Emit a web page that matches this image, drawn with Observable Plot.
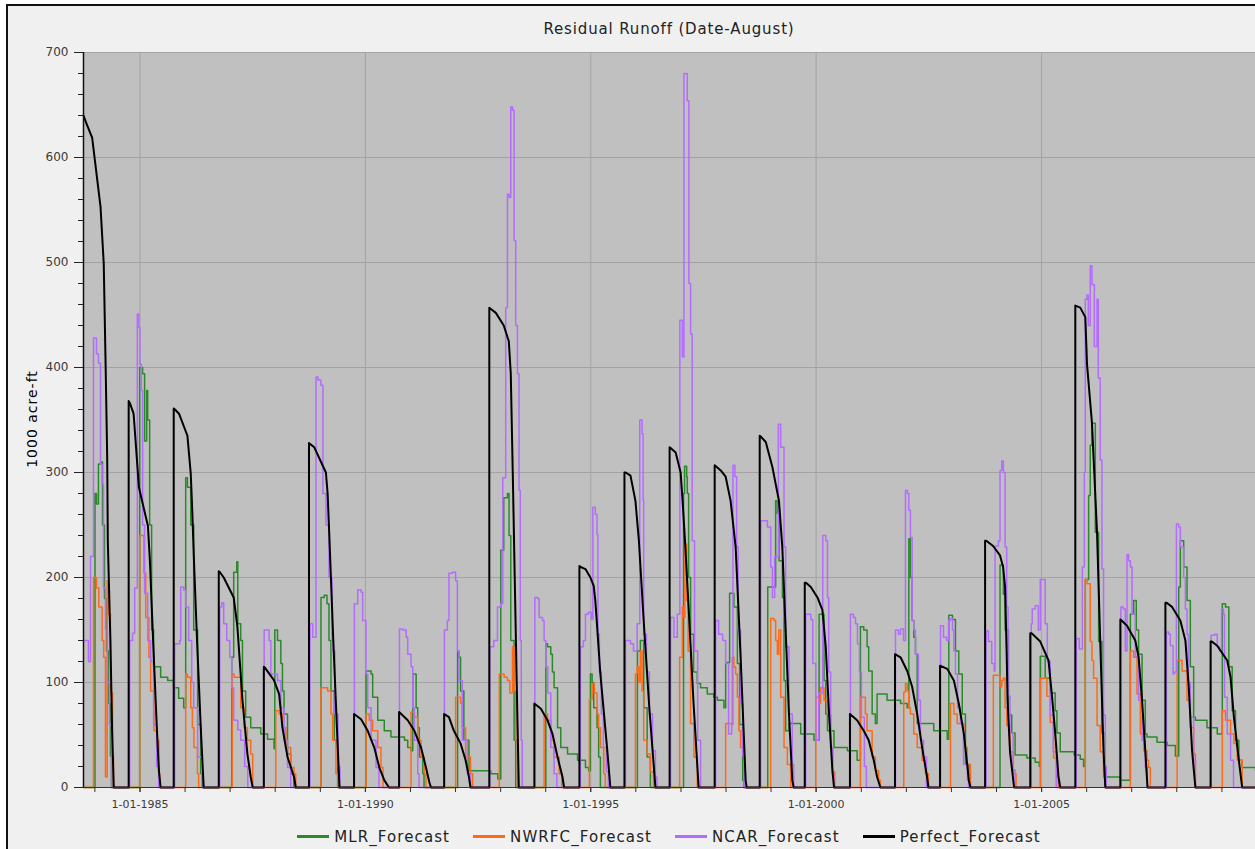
<!DOCTYPE html>
<html>
<head>
<meta charset="utf-8">
<script src="https://cdn.jsdelivr.net/npm/d3@7"></script>
<script src="https://cdn.jsdelivr.net/npm/@observablehq/plot@0.6"></script>
<style>
  html, body { margin: 0; padding: 0; width: 1255px; height: 849px; overflow: hidden; background: #fff; }
  #panel { position: absolute; left: 6px; top: 4px; width: 1280px; height: 880px; border: 2px solid #111; background: #f0f0f0; }
  #title { position: absolute; left: 83px; width: 1172px; top: 20px; text-align: center;
           font: 15px "DejaVu Sans", sans-serif; letter-spacing: 0.85px; color: #222; }
  #chart { position: absolute; left: 0; top: 42px; }
  #ylabel { position: absolute; left: 32px; top: 419px; transform: translate(-50%, -50%) rotate(-90deg);
            white-space: nowrap; font: 14px "DejaVu Sans", sans-serif; letter-spacing: 1px; color: #000; }
  #legend { position: absolute; left: 83px; width: 1172px; top: 828px; display: flex; justify-content: center; gap: 23px;
            font: 15px "DejaVu Sans", sans-serif; letter-spacing: 1.1px; color: #222; line-height: 18px; }
  #legend .sw { display: inline-block; width: 32px; height: 3px; margin-right: 5px; vertical-align: middle; position: relative; top: -1px; }
</style>
</head>
<body>
<div id="panel"></div>
<div id="title"></div>
<div id="ylabel"></div>
<div id="chart"></div>
<div id="legend"></div>
<script>
// Rows are [water year, day since Oct 1 of that water year, 1000 acre-ft]
const mlrForecast = [
  [1984,0,0],[1984,93,280],[1984,105,270],[1984,121,308],[1984,146,310],[1984,154,250],[1984,170,180],[1984,186,130],[1984,202,80],[1984,218,30],[1984,227,0],
  [1985,89,400],[1985,113,394],[1985,129,330],[1985,146,378],[1985,154,350],[1985,170,250],[1985,186,150],[1985,202,115],[1985,259,105],[1985,316,102],[1985,364,95],
  [1986,40,85],[1986,81,76],[1986,97,295],[1986,111,286],[1986,138,250],[1986,162,150],[1986,194,60],[1986,218,13],[1986,232,0],
  [1987,105,124],[1987,121,205],[1987,146,215],[1987,154,156],[1987,178,140],[1987,192,92],[1987,218,67],[1987,259,57],[1987,340,51],
  [1988,30,46],[1988,83,37],[1988,89,150],[1988,111,140],[1988,138,118],[1988,151,92],[1988,164,70],[1988,192,32],[1988,218,13],[1988,243,0],
  [1989,97,181],[1989,124,183],[1989,146,175],[1989,162,140],[1989,178,92],[1989,205,45],[1989,232,0],
  [1990,97,111],[1990,138,108],[1990,151,86],[1990,192,64],[1990,245,54],[1990,299,48],
  [1991,44,45],[1991,70,38],[1991,97,35],[1991,111,108],[1991,138,76],[1991,151,57],[1991,164,29],[1991,192,13],[1991,202,0],
  [1992,109,130],[1992,120,124],[1992,133,92],[1992,160,45],[1992,201,16],
  [1993,12,13],[1993,69,8],[1993,93,226],[1993,117,276],[1993,147,280],[1993,160,240],[1993,174,140],[1993,201,45],[1993,214,0],
  [1994,93,137],[1994,107,134],[1994,133,127],[1994,146,110],[1994,160,95],[1994,188,57],[1994,214,38],[1994,269,32],[1994,350,26],
  [1995,49,19],[1995,75,16],[1995,89,108],[1995,103,100],[1995,116,76],[1995,143,57],[1995,156,29],[1995,170,0],
  [1996,105,130],[1996,129,140],[1996,156,76],[1996,184,29],[1996,210,0],
  [1997,113,280],[1997,121,306],[1997,138,296],[1997,143,280],[1997,154,200],[1997,170,146],[1997,194,110],[1997,224,99],[1997,251,95],[1997,305,89],[1997,358,86],
  [1998,22,83],[1998,75,76],[1998,89,119],[1998,121,185],[1998,156,172],[1998,184,118],[1998,202,60],[1998,227,7],[1998,235,0],
  [1999,65,191],[1999,129,273],[1999,143,261],[1999,156,216],[1999,184,181],[1999,197,102],[1999,210,54],[1999,237,61],[1999,332,51],
  [2000,75,45],[2000,116,165],[2000,156,102],[2000,170,70],[2000,184,54],[2000,237,38],[2000,345,35],
  [2001,58,26],[2001,85,153],[2001,112,150],[2001,139,134],[2001,152,111],[2001,180,70],[2001,206,61],[2001,220,89],[2001,301,83],
  [2002,45,80],[2002,99,76],[2002,112,237],[2002,125,200],[2002,139,159],[2002,152,143],[2002,166,127],[2002,180,61],[2002,314,54],
  [2003,58,46],[2003,71,164],[2003,101,160],[2003,125,130],[2003,152,108],[2003,180,70],[2003,206,22],[2003,233,0],
  [2004,121,212],[2004,148,184],[2004,162,150],[2004,189,69],[2004,216,52],[2004,243,31],[2004,338,28],
  [2005,40,24],[2005,73,20],[2005,81,125],[2005,121,104],[2005,162,90],[2005,202,73],[2005,216,52],[2005,243,34],[2005,356,31],
  [2006,40,27],[2006,67,20],[2006,81,198],[2006,108,278],[2006,121,326],[2006,135,347],[2006,162,243],[2006,189,139],[2006,216,52],[2006,243,10],
  [2007,0,7],[2007,81,165],[2007,108,178],[2007,129,150],[2007,148,127],[2007,176,83],[2007,202,51],[2007,216,48],[2007,297,43],
  [2008,14,40],[2008,81,30],[2008,108,191],[2008,121,235],[2008,148,210],[2008,175,178],[2008,202,115],[2008,229,67],[2008,243,64],[2008,337,57],
  [2009,54,51],[2009,95,175],[2009,121,172],[2009,148,115],[2009,175,73],[2009,202,45],[2009,229,26],[2009,256,19],[2009,364,16]
];

const nwrfcForecast = [
  [1984,0,0],[1984,81,200],[1984,105,190],[1984,124,172],[1984,151,140],[1984,164,124],[1984,178,10],[1984,192,197],[1984,202,165],[1984,218,90],[1984,235,30],[1984,243,0],
  [1985,89,240],[1985,124,204],[1985,138,162],[1985,164,124],[1985,178,92],[1985,205,54],[1985,232,45],[1985,245,13],[1985,251,0],
  [1986,97,108],[1986,111,105],[1986,138,76],[1986,151,57],[1986,164,38],[1986,192,13],[1986,202,0],
  [1987,109,108],[1987,124,105],[1987,178,76],[1987,205,57],[1987,232,45],[1987,259,32],[1987,275,0],
  [1988,97,73],[1988,124,70],[1988,151,57],[1988,178,38],[1988,218,19],[1988,245,13],[1988,259,0],
  [1989,97,95],[1989,151,92],[1989,178,70],[1989,192,45],[1989,218,13],[1989,235,0],
  [1990,97,70],[1990,124,64],[1990,151,54],[1990,192,38],[1990,218,19],[1990,235,0],
  [1991,97,72],[1991,124,67],[1991,151,45],[1991,178,29],[1991,205,13],[1991,218,0],
  [1992,93,86],[1992,133,80],[1992,147,57],[1992,174,29],[1992,214,13],[1992,231,0],
  [1993,81,108],[1993,120,105],[1993,147,102],[1993,166,90],[1993,188,134],[1993,201,92],[1993,214,45],[1993,228,0],
  [1994,79,70],[1994,107,64],[1994,133,45],[1994,160,29],[1994,201,13],[1994,222,0],
  [1995,81,84],[1995,103,99],[1995,121,90],[1995,143,70],[1995,156,57],[1995,170,38],[1995,197,13],[1995,210,0],
  [1996,89,108],[1996,103,115],[1996,117,100],[1996,129,130],[1996,143,92],[1996,156,45],[1996,184,32],[1996,210,15],[1996,235,0],
  [1997,81,124],[1997,103,172],[1997,116,162],[1997,124,232],[1997,138,178],[1997,150,130],[1997,170,61],[1997,197,29],[1997,224,0],
  [1998,89,61],[1998,143,124],[1998,156,115],[1998,170,108],[1998,184,86],[1998,197,54],[1998,210,38],[1998,237,0],
  [1999,89,161],[1999,116,159],[1999,129,140],[1999,143,127],[1999,154,150],[1999,170,86],[1999,197,38],[1999,224,22],[1999,251,0],
  [2000,89,86],[2000,113,80],[2000,129,95],[2000,156,83],[2000,184,70],[2000,210,38],[2000,227,15],[2000,243,0],
  [2001,85,86],[2001,125,70],[2001,139,54],[2001,180,29],[2001,206,16],[2001,233,7],[2001,247,0],
  [2002,71,91],[2002,85,99],[2002,99,92],[2002,112,76],[2002,125,70],[2002,152,51],[2002,180,38],[2002,220,26],[2002,247,13],[2002,271,0],
  [2003,85,80],[2003,112,70],[2003,139,61],[2003,193,38],[2003,220,22],[2003,247,0],
  [2004,67,107],[2004,121,96],[2004,135,102],[2004,148,104],[2004,162,76],[2004,176,59],[2004,202,34],[2004,229,13],[2004,251,0],
  [2005,81,104],[2005,135,87],[2005,162,62],[2005,189,28],[2005,216,10],[2005,227,0],
  [2006,81,198],[2006,95,194],[2006,121,139],[2006,135,121],[2006,148,104],[2006,176,59],[2006,202,34],[2006,229,10],[2006,243,0],
  [2007,81,130],[2007,108,124],[2007,135,89],[2007,162,51],[2007,189,35],[2007,216,26],[2007,229,19],[2007,243,0],
  [2008,95,121],[2008,135,111],[2008,175,83],[2008,202,57],[2008,229,32],[2008,243,0],
  [2009,95,73],[2009,121,64],[2009,162,51],[2009,189,42],[2009,216,26],[2009,256,0],[2009,364,0]
];

const ncarForecast = [
  [1984,0,140],[1984,40,120],[1984,57,220],[1984,81,428],[1984,105,413],[1984,121,404],[1984,138,308],[1984,151,289],[1984,162,190],[1984,178,150],[1984,194,100],[1984,210,60],[1984,227,0],
  [1985,8,140],[1985,32,147],[1985,49,190],[1985,70,451],[1985,83,438],[1985,91,403],[1985,103,378],[1985,113,250],[1985,129,185],[1985,154,140],[1985,178,120],[1985,202,60],[1985,227,20],[1985,243,0],
  [1986,8,137],[1986,49,140],[1986,57,191],[1986,81,188],[1986,97,172],[1986,121,140],[1986,146,100],[1986,162,76],[1986,194,29],[1986,227,0],
  [1987,8,172],[1987,24,176],[1987,40,156],[1987,65,140],[1987,89,124],[1987,105,95],[1987,121,64],[1987,154,55],[1987,178,45],[1987,210,20],[1987,235,0],
  [1988,3,150],[1988,43,140],[1988,57,108],[1988,111,102],[1988,138,76],[1988,164,45],[1988,192,19],[1988,218,0],
  [1989,8,156],[1989,30,143],[1989,57,391],[1989,73,388],[1989,97,383],[1989,113,280],[1989,138,250],[1989,162,200],[1989,186,130],[1989,210,70],[1989,235,20],[1989,251,0],
  [1990,3,175],[1990,30,188],[1990,57,186],[1990,70,159],[1990,97,108],[1990,111,76],[1990,138,45],[1990,178,19],[1990,202,0],
  [1991,3,151],[1991,30,150],[1991,57,143],[1991,70,127],[1991,97,115],[1991,111,76],[1991,124,45],[1991,151,13],[1991,162,0],
  [1992,2,150],[1992,26,159],[1992,39,204],[1992,66,205],[1992,93,197],[1992,107,130],[1992,120,102],[1992,147,45],[1992,188,13],[1992,214,0],
  [1993,4,134],[1993,36,140],[1993,66,172],[1993,93,175],[1993,109,295],[1993,133,457],[1993,147,565],[1993,160,562],[1993,174,648],[1993,188,645],[1993,201,521],[1993,214,440],[1993,228,394],[1993,241,283],[1993,251,140],[1993,259,45],[1993,267,0],
  [1994,4,181],[1994,26,180],[1994,39,162],[1994,66,159],[1994,79,140],[1994,93,115],[1994,109,90],[1994,133,38],[1994,160,13],[1994,182,0],
  [1995,8,134],[1995,32,140],[1995,49,165],[1995,73,167],[1995,97,160],[1995,109,267],[1995,129,260],[1995,143,241],[1995,150,146],[1995,162,110],[1995,178,70],[1995,194,38],[1995,218,15],[1995,235,0],
  [1996,8,140],[1996,49,137],[1996,73,130],[1996,103,156],[1996,124,350],[1996,143,337],[1996,151,273],[1996,156,146],[1996,178,110],[1996,202,70],[1996,227,35],[1996,251,10],[1996,263,0],
  [1997,8,162],[1997,35,143],[1997,62,165],[1997,83,445],[1997,103,410],[1997,116,680],[1997,143,654],[1997,156,480],[1997,170,432],[1997,183,235],[1997,202,130],[1997,227,45],[1997,251,0],
  [1998,8,159],[1998,32,146],[1998,65,140],[1998,89,118],[1998,113,51],[1998,138,60],[1998,148,307],[1998,164,296],[1998,178,229],[1998,190,150],[1998,210,80],[1998,227,30],[1998,243,0],
  [1999,8,254],[1999,62,248],[1999,89,210],[1999,103,181],[1999,121,220],[1999,151,346],[1999,170,324],[1999,197,229],[1999,210,134],[1999,237,70],[1999,264,22],[1999,275,0],
  [2000,8,165],[2000,49,160],[2000,65,118],[2000,89,45],[2000,113,90],[2000,146,240],[2000,170,235],[2000,184,181],[2000,194,110],[2000,210,38],[2000,224,13],[2000,235,0],
  [2001,4,165],[2001,28,162],[2001,45,156],[2001,61,137],[2001,77,110],[2001,93,67],[2001,117,20],[2001,133,0],
  [2002,4,150],[2002,28,146],[2002,45,151],[2002,69,140],[2002,85,283],[2002,101,280],[2002,112,264],[2002,125,238],[2002,139,159],[2002,152,150],[2002,166,127],[2002,190,83],[2002,206,45],[2002,231,29],[2002,255,0],
  [2003,4,154],[2003,28,143],[2003,53,140],[2003,69,159],[2003,85,161],[2003,101,150],[2003,112,130],[2003,125,108],[2003,142,76],[2003,166,61],[2003,190,22],[2003,222,7],[2003,231,0],
  [2004,8,149],[2004,27,139],[2004,54,118],[2004,73,111],[2004,81,230],[2004,108,235],[2004,121,302],[2004,135,311],[2004,148,300],[2004,162,229],[2004,175,172],[2004,186,87],[2004,202,52],[2004,227,17],[2004,243,0],
  [2005,8,156],[2005,16,170],[2005,40,173],[2005,65,150],[2005,81,198],[2005,121,156],[2005,138,120],[2005,162,69],[2005,186,34],[2005,210,0],
  [2006,8,142],[2006,32,132],[2006,57,210],[2006,73,300],[2006,81,465],[2006,95,469],[2006,105,440],[2006,121,497],[2006,135,479],[2006,154,420],[2006,176,465],[2006,186,390],[2006,202,312],[2006,216,208],[2006,229,69],[2006,243,20],[2006,251,0],
  [2007,4,172],[2007,24,170],[2007,40,130],[2007,54,222],[2007,67,216],[2007,81,210],[2007,95,165],[2007,121,125],[2007,148,83],[2007,176,45],[2007,202,19],[2007,218,0],
  [2008,8,148],[2008,27,146],[2008,40,135],[2008,62,108],[2008,73,110],[2008,89,251],[2008,108,248],[2008,121,229],[2008,148,200],[2008,162,170],[2008,175,146],[2008,186,100],[2008,202,67],[2008,229,26],[2008,243,0],
  [2009,4,145],[2009,32,146],[2009,54,134],[2009,73,130],[2009,89,170],[2009,105,165],[2009,113,86],[2009,135,51],[2009,162,26],[2009,186,0],[2009,364,0]
];

const perfectForecast = [
  [1984,0,640],[1984,25,632],[1984,70,619],[1984,138,553],[1984,164,499],[1984,178,410],[1984,192,315],[1984,197,235],[1984,218,140],[1984,232,54],[1984,245,0],
  [1985,0,0],[1985,0,368],[1985,10,366],[1985,40,356],[1985,83,286],[1985,156,249],[1985,172,216],[1985,198,140],[1985,227,60],[1985,245,16],[1985,259,0],
  [1986,0,0],[1986,0,361],[1986,10,360],[1986,43,356],[1986,111,335],[1986,138,299],[1986,151,261],[1986,164,216],[1986,189,140],[1986,218,60],[1986,243,0],
  [1987,0,0],[1987,0,206],[1987,10,205],[1987,40,200],[1987,121,181],[1987,151,153],[1987,192,83],[1987,232,32],[1987,259,10],[1987,275,0],
  [1988,0,0],[1988,0,115],[1988,10,114],[1988,83,102],[1988,124,89],[1988,151,57],[1988,192,29],[1988,245,10],[1988,259,0],
  [1989,0,0],[1989,0,328],[1989,10,327],[1989,43,324],[1989,137,300],[1989,151,280],[1989,164,242],[1989,197,140],[1989,227,55],[1989,247,0],
  [1990,0,0],[1990,0,70],[1990,57,65],[1990,111,54],[1990,164,38],[1990,205,19],[1990,245,7],[1990,283,0],
  [1991,0,0],[1991,0,72],[1991,70,64],[1991,124,54],[1991,178,38],[1991,218,19],[1991,245,5],[1991,259,0],
  [1992,0,0],[1992,0,70],[1992,39,67],[1992,79,54],[1992,133,42],[1992,174,26],[1992,201,10],[1992,214,0],
  [1993,0,0],[1993,0,457],[1993,10,456],[1993,53,452],[1993,117,440],[1993,158,425],[1993,174,394],[1993,190,300],[1993,206,200],[1993,222,100],[1993,239,0],
  [1994,0,0],[1994,0,80],[1994,53,75],[1994,107,64],[1994,147,51],[1994,188,29],[1994,228,10],[1994,241,0],
  [1995,0,0],[1995,0,211],[1995,10,210],[1995,49,208],[1995,89,200],[1995,116,192],[1995,129,178],[1995,170,108],[1995,224,38],[1995,251,0],
  [1996,0,0],[1996,0,300],[1996,10,300],[1996,49,297],[1996,89,273],[1996,117,235],[1996,158,155],[1996,202,75],[1996,251,0],
  [1997,0,0],[1997,0,324],[1997,10,323],[1997,49,319],[1997,89,300],[1997,105,273],[1997,129,226],[1997,158,162],[1997,194,80],[1997,235,0],
  [1998,0,0],[1998,0,307],[1998,10,306],[1998,49,302],[1998,89,296],[1998,129,273],[1998,170,229],[1998,210,125],[1998,251,7],[1998,259,0],
  [1999,0,0],[1999,0,335],[1999,10,334],[1999,49,329],[1999,103,305],[1999,156,273],[1999,183,229],[1999,210,150],[1999,237,70],[1999,264,7],[1999,275,0],
  [2000,0,0],[2000,0,195],[2000,10,195],[2000,49,191],[2000,103,181],[2000,143,169],[2000,170,134],[2000,197,70],[2000,224,16],[2000,237,0],
  [2001,0,0],[2001,0,70],[2001,58,64],[2001,112,54],[2001,152,45],[2001,193,26],[2001,220,10],[2001,247,0],
  [2002,0,0],[2002,0,127],[2002,45,124],[2002,99,111],[2002,139,96],[2002,180,70],[2002,220,38],[2002,260,10],[2002,271,0],
  [2003,0,0],[2003,0,116],[2003,58,113],[2003,112,102],[2003,152,80],[2003,193,51],[2003,220,22],[2003,233,7],[2003,247,0],
  [2004,0,0],[2004,0,235],[2004,10,235],[2004,65,230],[2004,121,221],[2004,146,210],[2004,162,191],[2004,175,127],[2004,182,83],[2004,202,34],[2004,235,0],
  [2005,0,0],[2005,0,147],[2005,10,147],[2005,81,139],[2005,148,121],[2005,176,87],[2005,202,52],[2005,229,10],[2005,243,0],
  [2006,0,0],[2006,0,459],[2006,40,457],[2006,81,448],[2006,95,403],[2006,135,347],[2006,176,243],[2006,202,139],[2006,229,34],[2006,243,0],
  [2007,0,0],[2007,0,160],[2007,10,159],[2007,54,154],[2007,121,140],[2007,148,124],[2007,176,83],[2007,202,35],[2007,220,0],
  [2008,0,0],[2008,0,176],[2008,10,176],[2008,54,172],[2008,121,159],[2008,162,140],[2008,189,96],[2008,216,35],[2008,243,0],
  [2009,0,0],[2009,0,139],[2009,10,139],[2009,54,135],[2009,135,121],[2009,162,105],[2009,189,67],[2009,229,26],[2009,256,0],[2009,364,0]
];

const seriesNames = ["MLR_Forecast", "NWRFC_Forecast", "NCAR_Forecast", "Perfect_Forecast"];
const seriesColors = ["#2a8a2a", "#ff6a18", "#b46cff", "#000000"];

const yMajorTicks = [0, 100, 200, 300, 400, 500, 600, 700];
const yMinorTicks = d3.range(0, 701, 20);
const xLabelYears = [1985, 1990, 1995, 2000, 2005];
const xMinorYears = d3.range(1984, 2010);

const chartTitle = "Residual Runoff (Date-August)";
const yAxisTitle = "1000 acre-ft";

// day 0 of a water year is October 1 of the preceding calendar year
const toDate = (wy, day) => new Date(Date.UTC(wy - 1, 9, 1 + day));
const toRows = (arr) => arr.map(([wy, day, v]) => ({date: toDate(wy, day), value: v}));
const jan1 = (y) => new Date(Date.UTC(y, 0, 1));

const xStart = toDate(1984, 0);
const xEnd = toDate(2009, 364);

const lineOpts = (i, curve, w) => ({x: "date", y: "value", stroke: seriesColors[i], strokeWidth: w, curve});

const chart = Plot.plot({
  width: 1255,
  height: 778,
  marginTop: 10,
  marginLeft: 83,
  marginRight: 0,
  marginBottom: 33,
  style: {background: "transparent", fontFamily: "'DejaVu Sans', sans-serif", overflow: "visible"},
  x: {type: "utc", domain: [xStart, xEnd]},
  y: {domain: [0, 700]},
  marks: [
    Plot.frame({fill: "#c0c0c0", stroke: null}),
    Plot.gridY(yMajorTicks, {stroke: "#a3a3a3", strokeOpacity: 1, strokeWidth: 1}),
    Plot.gridX(xLabelYears.map(jan1), {stroke: "#a3a3a3", strokeOpacity: 1, strokeWidth: 1}),
    Plot.line(toRows(mlrForecast), lineOpts(0, "step-after", 1.5)),
    Plot.line(toRows(nwrfcForecast), lineOpts(1, "step-after", 1.5)),
    Plot.line(toRows(ncarForecast), lineOpts(2, "step-after", 1.5)),
    Plot.line(toRows(perfectForecast), lineOpts(3, "linear", 2)),
    Plot.ruleX([xStart], {stroke: "#111", strokeWidth: 1.5}),
    Plot.ruleY([0], {stroke: "#333", strokeWidth: 1.2}),
    Plot.axisY(yMinorTicks, {tickSize: 5, tickFormat: () => "", stroke: "#222", label: null}),
    Plot.axisY(yMajorTicks, {tickSize: 9, tickPadding: 6, fontSize: 12, fill: "#3a3a3a", stroke: "#222", label: null}),
    Plot.axisX(xMinorYears.map(jan1), {tickSize: 5, tickFormat: () => "", stroke: "#333", label: null}),
    Plot.axisX(xLabelYears.map(jan1), {tickSize: 5, tickPadding: 8, fontSize: 11, fill: "#3a3a3a", stroke: "#333", label: null,
      tickFormat: (d) => `1-01-${d.getUTCFullYear()}`})
  ]
});

document.getElementById("chart").append(chart);
document.getElementById("title").textContent = chartTitle;
document.getElementById("ylabel").textContent = yAxisTitle;

const legend = document.getElementById("legend");
seriesNames.forEach((name, i) => {
  const item = document.createElement("span");
  const sw = document.createElement("span");
  sw.className = "sw";
  sw.style.background = seriesColors[i];
  item.append(sw, document.createTextNode(name));
  legend.append(item);
});
</script>
</body>
</html>
